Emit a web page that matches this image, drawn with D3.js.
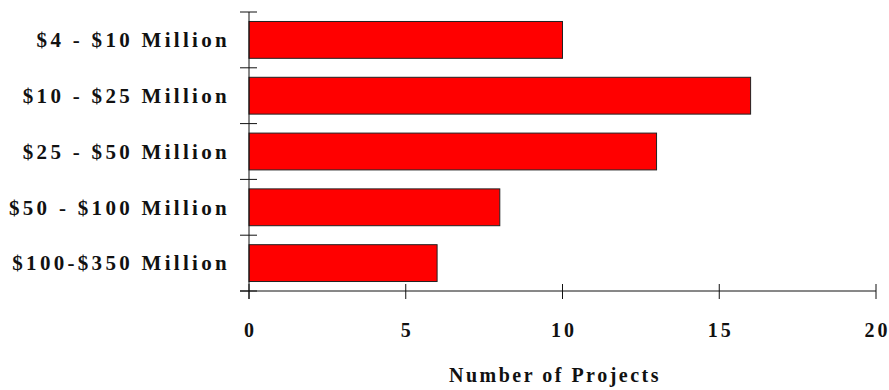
<!DOCTYPE html>
<html>
<head>
<meta charset="utf-8">
<script src="https://cdn.jsdelivr.net/npm/d3@7"></script>
<style>
  body { margin: 0; background: #fff; }
  text { font-family: "Liberation Serif", "Times New Roman", serif; font-weight: bold; fill: #111; }
</style>
</head>
<body>
<div id="chart"></div>
<script>
// categories and values
var categories = ["$4 - $10 Million", "$10 - $25 Million", "$25 - $50 Million", "$50 - $100 Million", "$100-$350 Million"];
var projects = [10, 16, 13, 8, 6];
var xTicks = [0, 5, 10, 15, 20];

var width = 889, height = 390;
var margin = {top: 12, right: 13, bottom: 99, left: 249};
var plotW = width - margin.left - margin.right;
var plotH = height - margin.top - margin.bottom;

var svg = d3.select("#chart")
  .append("svg")
    .attr("width", width)
    .attr("height", height);

var g = svg.append("g")
  .attr("transform", "translate(" + margin.left + "," + margin.top + ")");

var x = d3.scaleLinear()
  .domain([0, 20])
  .range([0, plotW]);

var y = d3.scaleBand()
  .domain(categories)
  .range([0, plotH])
  .paddingInner(0.34)
  .paddingOuter(0.17);

// bars
g.selectAll("rect.bar")
  .data(categories)
  .enter()
  .append("rect")
    .attr("class", "bar")
    .attr("x", x(0))
    .attr("y", d => y(d))
    .attr("width", (d, i) => x(projects[i]) - x(0))
    .attr("height", y.bandwidth())
    .attr("fill", "#ff0000")
    .attr("stroke", "#222")
    .attr("stroke-width", 1);

// x axis (ticks cross the line)
var xAxis = g.append("g")
  .attr("transform", "translate(0," + plotH + ")");
xAxis.append("line")
  .attr("x1", -9).attr("x2", x(20))
  .attr("stroke", "#111");
xAxis.selectAll("line.tick")
  .data(xTicks)
  .enter()
  .append("line")
    .attr("class", "tick")
    .attr("x1", d => x(d)).attr("x2", d => x(d))
    .attr("y1", -7).attr("y2", 8)
    .attr("stroke", "#111");
xAxis.selectAll("text")
  .data(xTicks)
  .enter()
  .append("text")
    .attr("x", d => x(d))
    .attr("dx", 1.5)
    .attr("y", 46)
    .attr("text-anchor", "middle")
    .style("font-size", "20px")
    .style("letter-spacing", "3px")
    .text(d => d);

// y axis
var yAxis = g.append("g");
yAxis.append("line")
  .attr("y1", 0).attr("y2", plotH + 8)
  .attr("stroke", "#111");
var yTickPos = categories.map(d => y(d) - y.step() * y.paddingInner() / 2).concat([plotH]);
yAxis.selectAll("line.tick")
  .data(yTickPos)
  .enter()
  .append("line")
    .attr("class", "tick")
    .attr("x1", -9).attr("x2", 8)
    .attr("y1", d => d).attr("y2", d => d)
    .attr("stroke", "#111");
yAxis.selectAll("text")
  .data(categories)
  .enter()
  .append("text")
    .attr("x", -19)
    .attr("y", d => y(d) + y.bandwidth() / 2)
    .attr("dy", "0.35em")
    .attr("text-anchor", "end")
    .style("font-size", "21px")
    .style("letter-spacing", "3.3px")
    .text(d => d);

// axis title
svg.append("text")
  .attr("x", 555)
  .attr("y", 382)
  .attr("text-anchor", "middle")
  .style("font-size", "20px")
  .style("letter-spacing", "2.5px")
  .text("Number of Projects");
</script>
</body>
</html>
